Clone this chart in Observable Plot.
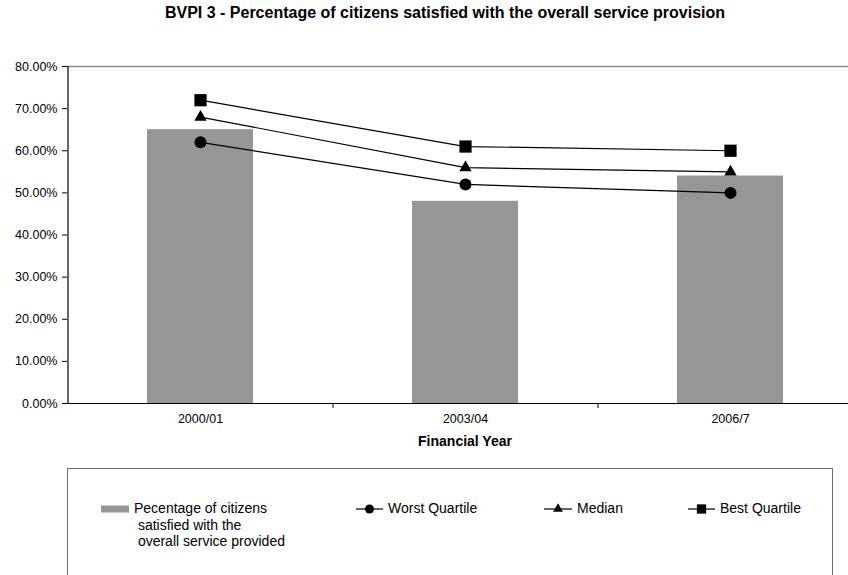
<!DOCTYPE html>
<html>
<head>
<meta charset="utf-8">
<script src="https://cdn.jsdelivr.net/npm/d3@7"></script>
<script src="https://cdn.jsdelivr.net/npm/@observablehq/plot@0.6"></script>
<style>
  body { margin: 0; background: #fff; font-family: "Liberation Sans", Arial, sans-serif; }
  #wrap { position: relative; width: 848px; height: 575px; overflow: hidden; background: #fff; }
  #title { position: absolute; left: 0; top: 4px; width: 890px; text-align: center;
           font-weight: bold; font-size: 16px; line-height: 18px; color: #000; }
  #chart { position: absolute; left: 0; top: 0; }
  #legend { position: absolute; left: 67px; top: 468px; width: 766px; height: 140px;
            border: 1.5px solid #6e6e6e; box-sizing: border-box; }
  #legend svg { position: absolute; left: 0; top: 0; overflow: visible; }
  .lg-text { position: absolute; font-size: 14px; line-height: 16.5px; white-space: pre; color: #000; }
</style>
</head>
<body>
<div id="wrap">
  <div id="title">BVPI 3 - Percentage of citizens satisfied with the overall service provision</div>
  <div id="chart"></div>
  <div id="legend"></div>
</div>
<script>
// Financial years on the category axis
const years = ["2000/01", "2003/04", "2006/7"];
// Share of citizens satisfied (bars)
const satisfied = [0.65, 0.48, 0.54];
// Comparison quartiles (lines)
const worstQuartile = [0.62, 0.52, 0.50];
const median = [0.68, 0.56, 0.55];
const bestQuartile = [0.72, 0.61, 0.60];
// Value axis ticks
const yTicks = [0, 0.1, 0.2, 0.3, 0.4, 0.5, 0.6, 0.7, 0.8];

const seriesNames = ["Worst Quartile", "Median", "Best Quartile"];
const seriesValues = [worstQuartile, median, bestQuartile];
const seriesSymbols = ["circle", "triangle", "square"];
const seriesRadius = [6, 4.6, 6.9];

const bars = years.map((year, i) => ({year, value: satisfied[i]}));
const points = seriesNames.flatMap((name, s) =>
  years.map((year, i) => ({series: name, year, value: seriesValues[s][i]})));

const W = 848, H = 460;
const mL = 67, mR = -14, mT = 66, mB = 57;
const step = (W - mL - mR) / years.length;
const innerH = H - mT - mB;

const chart = Plot.plot({
  width: W,
  height: H,
  marginLeft: mL,
  marginRight: mR,
  marginTop: mT,
  marginBottom: mB,
  style: {fontFamily: "'Liberation Sans', Arial, sans-serif", fontSize: "12.5px", color: "#000",
          background: "transparent", overflow: "visible"},
  x: {domain: years, paddingInner: 0.6, paddingOuter: 0.3, axis: null},
  y: {domain: [0, 0.8], axis: null},
  marks: [
    Plot.barY(bars, {x: "year", y: "value", fill: "#969696"}),
    // plot area top border
    Plot.ruleY([0.8], {stroke: "#8c8c8c", strokeWidth: 1.5}),
    // value axis line
    Plot.ruleX([years[0]], {dx: -step / 2, stroke: "#000", strokeWidth: 1.2}),
    // category axis line and boundary ticks
    Plot.ruleY([0], {stroke: "#000", strokeWidth: 1.2}),
    Plot.ruleX(years, {dx: step / 2, insetTop: innerH, insetBottom: -5, stroke: "#000"}),
    // quartile lines and markers
    Plot.line(points, {x: "year", y: "value", z: "series", stroke: "#000", strokeWidth: 1.2}),
    ...seriesNames.map((name, s) =>
      Plot.dot(points.filter(d => d.series === name),
        {x: "year", y: "value", symbol: () => seriesSymbols[s], r: seriesRadius[s], fill: "#000", stroke: null})),
    Plot.axisY({ticks: yTicks, tickFormat: d3.format(".2%"), tickSize: 5, tickPadding: 5, label: null, fontSize: 12.5}),
    Plot.text(years, {x: d => d, frameAnchor: "bottom", dy: 19, fontSize: 12.5}),
    Plot.text(["Financial Year"], {frameAnchor: "bottom", dy: 42, fontWeight: "bold", fontSize: 14})
  ]
});
document.getElementById("chart").append(chart);

// Legend
const legend = d3.select("#legend");
const lx = 67, ly = 468; // legend box origin on the page
const svg = legend.append("svg").attr("width", 766).attr("height", 140);
const rowY = 508 - ly;
svg.append("rect").attr("x", 100 - lx).attr("y", rowY - 3.5).attr("width", 28).attr("height", 7).attr("fill", "#969696");
legend.append("div").attr("class", "lg-text")
  .style("left", (133 - lx) + "px").style("top", (rowY - 9) + "px")
  .text("Pecentage of citizens\n satisfied with the\n overall service provided");

const legendItems = [
  {x0: 355, x1: 382, tx: 387},
  {x0: 543, x1: 571, tx: 576},
  {x0: 687, x1: 714, tx: 719}
];
const legendSymbols = [d3.symbolCircle, d3.symbolTriangle, d3.symbolSquare];
const legendSizes = [64, 42, 86];
legendItems.forEach((it, s) => {
  svg.append("line").attr("x1", it.x0 - lx).attr("x2", it.x1 - lx)
    .attr("y1", rowY).attr("y2", rowY).attr("stroke", "#000").attr("stroke-width", 1.2);
  svg.append("path").attr("d", d3.symbol(legendSymbols[s], legendSizes[s])())
    .attr("transform", `translate(${(it.x0 + it.x1) / 2 - lx},${rowY})`).attr("fill", "#000");
  legend.append("div").attr("class", "lg-text")
    .style("left", (it.tx - lx) + "px").style("top", (rowY - 9) + "px")
    .text(seriesNames[s]);
});
</script>
</body>
</html>
